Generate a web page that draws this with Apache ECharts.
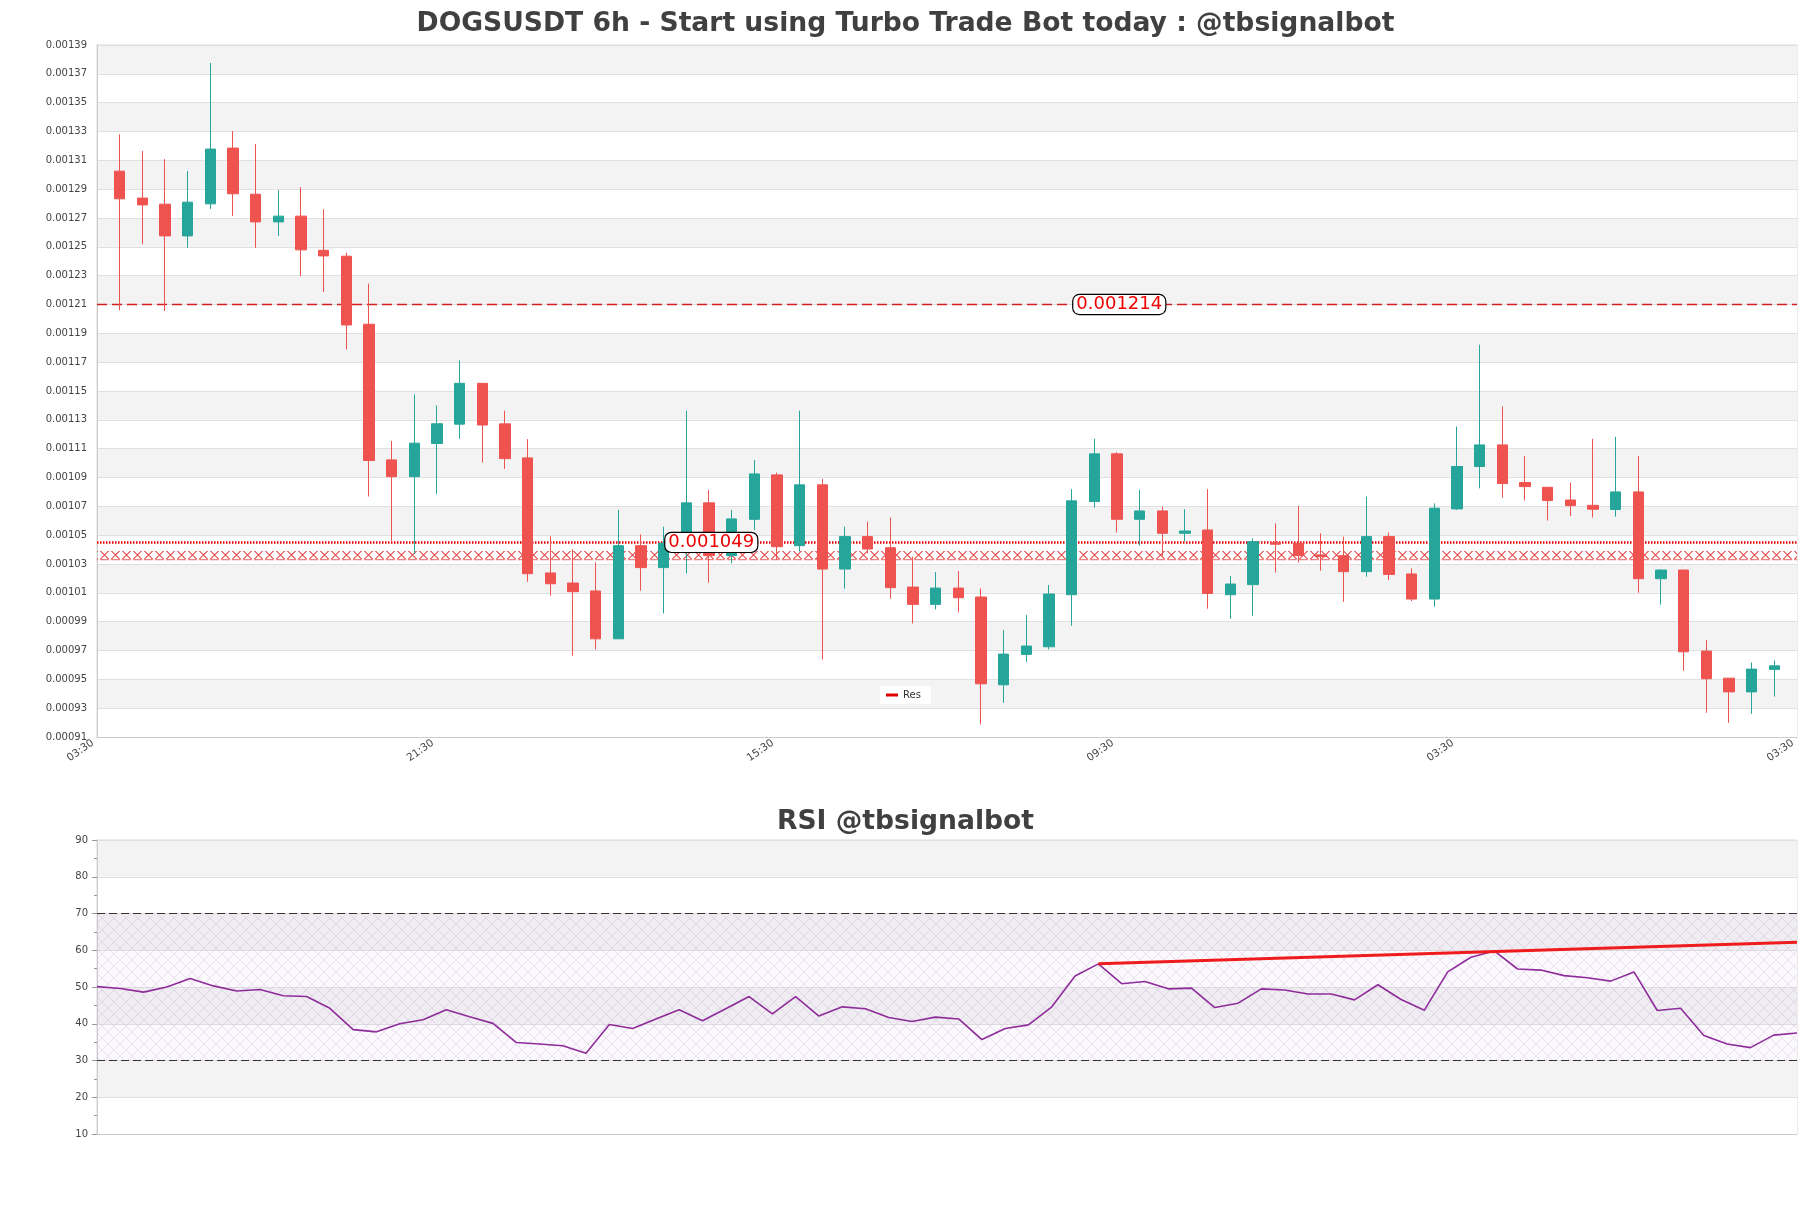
<!DOCTYPE html>
<html>
<head>
<meta charset="utf-8">
<script src="https://cdn.jsdelivr.net/npm/echarts@6/dist/echarts.min.js"></script>
<style>
html,body{margin:0;padding:0;background:#fff;}
#chart{width:1811px;height:1208px;}
</style>
</head>
<body>
<div id="chart"></div>
<script>
// ---- data ----
var tickLabels = ['03:30', '21:30', '15:30', '09:30', '03:30', '03:30'];

var openP = [0.0013065,0.0012878,0.0012836,0.0012616,0.0012838,0.0013225,0.0012905,0.0012713,0.0012753,0.0012516,
0.0012475,0.0012003,0.0011062,0.0010946,0.0011176,0.001131,0.0011593,0.0011312,0.0011076,0.0010278,
0.0010208,0.0010153,0.0009821,0.0010467,0.0010315,0.001046,0.0010764,0.0010398,0.001065,0.0010958,
0.0010467,0.0010889,0.0010305,0.001053,0.0010453,0.001018,0.001006,0.0010173,0.0010111,0.0009502,
0.0009713,0.0009766,0.0010127,0.0010773,0.0011104,0.001065,0.0010708,0.0010553,0.0010576,0.0010127,
0.0010197,0.0010488,0.0010484,0.0010403,0.0010398,0.0010287,0.001053,0.0010271,0.0010097,0.0010722,
0.0011016,0.0011166,0.0010905,0.0010872,0.0010784,0.0010747,0.0010718,0.001084,0.0010238,0.0010298,
0.0009736,0.0009548,0.0009453,0.0009609];
var closeP = [0.0012873,0.0012831,0.0012616,0.001285,0.0013218,0.0012908,0.0012713,0.0012753,0.0012519,0.0012477,
0.0011998,0.0011058,0.0010946,0.0011178,0.0011313,0.0011593,0.0011304,0.0011071,0.0010273,0.0010203,
0.0010148,0.0009821,0.0010467,0.0010315,0.0010484,0.0010764,0.0010398,0.0010653,0.0010965,0.001046,
0.0010889,0.0010305,0.001053,0.0010444,0.0010176,0.001006,0.0010173,0.0010106,0.0009509,0.0009715,
0.0009771,0.0010132,0.0010778,0.0011104,0.001065,0.0010708,0.0010553,0.0010569,0.0010136,0.0010201,
0.0010495,0.0010477,0.0010398,0.0010391,0.0010287,0.001053,0.0010268,0.0010097,0.0010727,0.0011016,
0.0011166,0.0010898,0.0010877,0.001078,0.0010745,0.001072,0.001084,0.0010238,0.0010298,0.0009731,
0.0009544,0.0009453,0.0009611,0.0009634];
var lowP = [0.00121,0.0012558,0.0012095,0.0012533,0.0012803,0.0012755,0.0012533,0.0012616,0.0012336,0.0012227,
0.0011829,0.0010808,0.0010495,0.0010409,0.0010826,0.0011209,0.0011044,0.0011,0.0010217,0.001012,
0.0009703,0.0009747,0.000982,0.0010155,0.0009997,0.0010275,0.001021,0.0010345,0.0010576,0.0010368,
0.0010426,0.0009678,0.0010169,0.0010414,0.0010099,0.0009928,0.0010025,0.0010004,0.0009227,0.0009377,
0.0009662,0.0009747,0.0009912,0.0010731,0.0010558,0.0010467,0.0010391,0.0010495,0.001003,0.000996,
0.0009981,0.001028,0.001035,0.0010294,0.0010078,0.0010252,0.0010229,0.0010083,0.0010044,0.0010715,
0.0010865,0.00108,0.001078,0.0010641,0.0010673,0.0010662,0.0010668,0.0010141,0.0010058,0.0009599,
0.0009308,0.0009238,0.0009301,0.000942];
var highP = [0.001332,0.0013204,0.0013148,0.0013065,0.0013815,0.0013343,0.0013253,0.0012933,0.0012954,0.0012801,
0.00125,0.0012285,0.0011194,0.0011516,0.001144,0.0011753,0.0011595,0.0011403,0.0011206,0.0010534,
0.0010442,0.0010352,0.0010715,0.0010546,0.0010599,0.0011403,0.0010854,0.0010715,0.0011062,0.0010974,
0.0011403,0.001093,0.0010599,0.0010634,0.0010662,0.0010391,0.0010284,0.0010291,0.0010171,0.0009882,
0.0009986,0.0010194,0.0010859,0.0011208,0.0011116,0.0010854,0.0010738,0.001072,0.0010859,0.0010257,
0.0010518,0.0010622,0.0010743,0.0010553,0.001053,0.0010808,0.0010558,0.001031,0.0010761,0.0011294,
0.0011861,0.0011433,0.001109,0.0010872,0.0010903,0.0011208,0.0011222,0.001109,0.0010303,0.00103,
0.0009812,0.0009548,0.0009657,0.0009671];

var rsiValues = [50.1,49.6,48.6,50.0,52.3,50.3,48.9,49.3,47.6,47.4,
44.2,38.4,37.8,40.0,41.1,43.8,41.9,40.1,34.9,34.5,
34.0,32.0,39.8,38.7,41.3,43.8,40.8,44.1,47.4,42.7,
47.4,42.1,44.6,44.1,41.7,40.6,41.8,41.3,35.7,38.7,
39.7,44.6,53.0,56.3,50.9,51.5,49.5,49.7,44.4,45.6,
49.5,49.2,48.1,48.1,46.5,50.6,46.6,43.7,54.1,58.1,
59.8,54.9,54.6,53.1,52.5,51.6,54.1,43.6,44.2,36.8,
34.5,33.5,36.9,37.5];

var resLevel = 0.001214;
var supLevel = 0.001049;
var zoneLow = 0.0010366, zoneHigh = 0.001043;
var rsiUpper = 70, rsiLower = 30;
var trendIdx = [43, 73];
var trendVal = [56.3, 62.2];

// ---- build ----
var candleData = openP.map(function (o, i) {
  return [i + 1, o, closeP[i], lowP[i], highP[i]];
});
var rsiCats = rsiValues.map(function (v, i) { return String(i); });
var trendData = trendIdx.map(function (x, i) { return [x, trendVal[i]]; });

function xPattern() {
  var c = document.createElement('canvas');
  c.width = 11; c.height = 10;
  var g = c.getContext('2d');
  g.strokeStyle = '#e22a2a';
  g.lineWidth = 1.05;
  g.beginPath();
  g.moveTo(1, 0.5); g.lineTo(10, 9.5);
  g.moveTo(10, 0.5); g.lineTo(1, 9.5);
  g.stroke();
  g.lineWidth = 1;
  g.strokeStyle = 'rgba(226,42,42,0.6)';
  g.beginPath();
  g.moveTo(2, 0.5); g.lineTo(9, 0.5);
  g.moveTo(2, 9.5); g.lineTo(9, 9.5);
  g.stroke();
  return c;
}
function hatchPattern() {
  var c = document.createElement('canvas');
  c.width = 12; c.height = 12;
  var g = c.getContext('2d');
  g.fillStyle = 'rgba(205,170,220,0.07)';
  g.fillRect(0, 0, 12, 12);
  g.strokeStyle = 'rgba(180,150,195,0.32)';
  g.lineWidth = 0.8;
  g.beginPath();
  g.moveTo(0, 0); g.lineTo(12, 12);
  g.moveTo(12, 0); g.lineTo(0, 12);
  g.stroke();
  return c;
}

var FONT = 'DejaVu Sans';
var chart = echarts.init(document.getElementById('chart'), null, { renderer: 'canvas' });
var option = {
  backgroundColor: '#ffffff',
  animation: false,
  textStyle: { fontFamily: FONT },
  title: [
    { text: 'DOGSUSDT 6h - Start using Turbo Trade Bot today : @tbsignalbot', left: 'center', top: 6,
      textStyle: { fontSize: 26.6, fontWeight: 'bold', color: '#404040', fontFamily: FONT } },
    { text: 'RSI @tbsignalbot', left: 'center', top: 804,
      textStyle: { fontSize: 26.6, fontWeight: 'bold', color: '#404040', fontFamily: FONT } }
  ],
  legend: {
    data: ['Res'], left: 880, top: 686, backgroundColor: '#ffffff',
    padding: [4, 10, 4, 6], itemWidth: 12, itemHeight: 3, icon: 'rect', itemGap: 5,
    textStyle: { fontSize: 10, color: '#333', fontFamily: FONT }
  },
  grid: [
    { left: 97, right: 14, top: 45, height: 692, show: true, borderColor: '#d8d8d8', borderWidth: 1 },
    { left: 97, right: 14, top: 840, height: 294, show: true, borderColor: '#d8d8d8', borderWidth: 1 }
  ],
  xAxis: [
    { type: 'value', gridIndex: 0, min: 0, max: 75, interval: 15,
      axisLine: { show: true, onZero: false, lineStyle: { color: '#cccccc' } },
      axisTick: { show: false }, splitLine: { show: false },
      axisLabel: { rotate: 35, fontSize: 10.5, color: '#444', margin: 2, padding: [0, 5, 0, 0], fontFamily: FONT,
        formatter: function (v) { return tickLabels[Math.round(v / 15)] || ''; } } },
    { type: 'category', gridIndex: 1, data: rsiCats, boundaryGap: false,
      axisLine: { show: true, lineStyle: { color: '#cccccc' } },
      axisTick: { show: false }, axisLabel: { show: false }, splitLine: { show: false } }
  ],
  yAxis: [
    { type: 'value', gridIndex: 0, min: 0.000914, max: 0.001394, interval: 0.00002,
      axisLine: { show: true, lineStyle: { color: '#cccccc' } }, axisTick: { show: false },
      axisLabel: { fontSize: 10, color: '#444', margin: 10, fontFamily: FONT,
        formatter: function (v) { return v.toFixed(5); } },
      splitLine: { show: true, lineStyle: { color: '#e0e0e0' } },
      splitArea: { show: true, areaStyle: { color: ['#ffffff', '#f3f3f3'] } } },
    { type: 'value', gridIndex: 1, min: 10, max: 90, interval: 10,
      axisLine: { show: true, lineStyle: { color: '#cccccc' } },
      axisTick: { show: true, length: 5, lineStyle: { color: '#999' } },
      minorTick: { show: true, splitNumber: 2, length: 3, lineStyle: { color: '#999' } },
      axisLabel: { fontSize: 10, color: '#444', margin: 9, fontFamily: FONT },
      splitLine: { show: true, lineStyle: { color: '#e0e0e0' } },
      splitArea: { show: true, areaStyle: { color: ['#ffffff', '#f3f3f3'] } } }
  ],
  series: [
    { name: 'Res', type: 'line', xAxisIndex: 0, yAxisIndex: 0, data: [],
      itemStyle: { color: '#e00000' }, lineStyle: { color: '#e00000' } },
    { name: 'candles', type: 'candlestick', xAxisIndex: 0, yAxisIndex: 0, z: 2,
      data: candleData, encode: { x: 0, y: [1, 2, 3, 4] }, barWidth: 11,
      itemStyle: { color: '#26a69a', color0: '#ef5350', borderColor: '#26a69a', borderColor0: '#ef5350', borderWidth: 1 },
      markArea: { silent: true, z: 1, itemStyle: { color: { image: xPattern(), repeat: 'repeat' } },
        data: [[{ yAxis: zoneLow }, { yAxis: zoneHigh }]] },
      markLine: { silent: true, z: 1, symbol: ['none', 'none'], label: { show: false }, precision: 6,
        data: [
          { yAxis: resLevel, lineStyle: { type: [10, 5], color: '#d42020', width: 1.3 } },
          { yAxis: supLevel, lineStyle: { type: [1.5, 1.5], color: '#e00000', width: 2.5 } }
        ] } },
    { name: 'levels', type: 'line', xAxisIndex: 0, yAxisIndex: 0, data: [], z: 10,
      markPoint: { silent: true, symbol: 'circle', symbolSize: 0,
        label: { show: true, position: 'inside', color: '#ee0000', fontSize: 18, fontFamily: FONT,
          backgroundColor: '#ffffff', borderColor: '#000000', borderWidth: 1.2, borderRadius: 6,
          padding: [1, 3, 0, 3], lineHeight: 18,
          formatter: function (p) { return String(p.value); } },
        data: [
          { coord: [45.1, resLevel], value: resLevel },
          { coord: [27.1, supLevel], value: supLevel }
        ] } },
    { name: 'RSI', type: 'line', xAxisIndex: 1, yAxisIndex: 1, data: rsiValues, z: 3,
      symbol: 'none', lineStyle: { color: '#8e2c9a', width: 1.6 }, itemStyle: { color: '#8e2c9a' },
      markArea: { silent: true, itemStyle: { color: { image: hatchPattern(), repeat: 'repeat' } },
        data: [[{ yAxis: rsiLower }, { yAxis: rsiUpper }]] },
      markLine: { silent: true, symbol: ['none', 'none'], label: { show: false },
        lineStyle: { type: [8, 4], color: '#333', width: 1 },
        data: [{ yAxis: rsiUpper }, { yAxis: rsiLower }] } },
    { name: 'trend', type: 'line', xAxisIndex: 1, yAxisIndex: 1, data: trendData, z: 5,
      symbol: 'none', lineStyle: { color: '#ee1c1c', width: 3 } }
  ]
};
chart.setOption(option);
</script>
</body>
</html>
